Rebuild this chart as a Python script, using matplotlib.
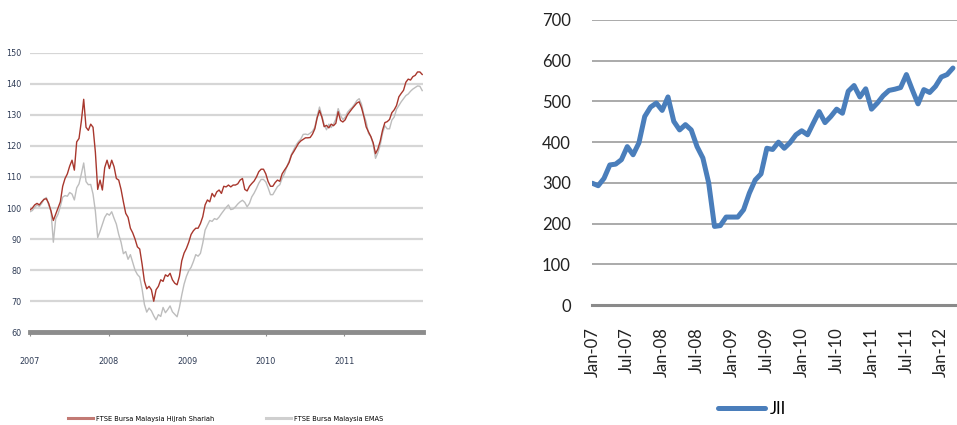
import numpy as np
import matplotlib.pyplot as plt
from matplotlib.lines import Line2D

plt.rcParams['font.family'] = ['Lato', 'DejaVu Sans']
small = {'family': 'DejaVu Sans', 'stretch': 'condensed'}

# left panel: FTSE Bursa Malaysia indices (2007 - end 2011)
years = [2007, 2008, 2009, 2010, 2011]
hijrah = [
    99.4, 100, 101, 101.5, 101, 102, 102.8, 103, 101.5, 99, 96, 98, 100, 102,
    107, 109.5, 111, 113.5, 115.4, 112.2, 121.3, 122.4, 128, 135, 126, 125,
    127, 126, 118, 106, 109, 105.8, 113, 115.4, 112.7, 115.4, 113.3, 109.5,
    109, 106, 102, 98.3, 97, 93.5, 92, 90, 87.5, 86.8, 82, 76.5, 74, 74.8,
    73.7, 70, 73.7, 74.8, 76.9, 76.4, 78.5, 78, 79, 76.9, 75.8, 75.3, 78, 83,
    85.5, 87, 89, 91.5, 92.7, 93.5, 93.5, 95, 97.2, 101, 102.6, 102, 104.7,
    103.6, 105.2, 105.8, 104.7, 107, 106.8, 107.4,
    106.8, 107.4, 107.4, 107.8, 109, 109.5, 106, 105.5, 107, 107.9, 108.7,
    110, 111.7, 112.5, 112.5, 111, 108.5, 107, 107, 108.2, 109, 108.6, 111,
    112.2, 113.3, 114.7, 117, 118.2, 119.5, 120.8, 121.6, 122.1, 122.6, 122.6,
    122.7, 123.8, 125.5, 129, 131.4, 129.3, 126.2, 126.6, 125.8, 127, 126.5,
    127.3, 131, 128.2, 127.7, 128.4, 130, 131, 132, 132.9, 133.8, 134.2,
    132.3, 129.5, 126.1, 124.5, 123, 121, 117.5, 119, 121.5, 125, 127.5,
    127.8, 128.5, 130.7, 131.6, 133, 135.8, 136.9, 137.9, 140.5, 141.5, 141.2,
    142.3, 142.7, 143.8, 143.8, 143,
]
emas = [
    98.8, 99.2, 100.2, 101, 100.5, 101.5, 102.8, 103.4, 101, 99, 89, 96.5, 98,
    100.5, 103.5, 104, 103.8, 105, 104.5, 102.6, 106.5, 107.8, 111, 114.5,
    108.5, 107.5, 107.6, 104.5, 99, 90.5, 92.5, 94.8, 97, 98.2, 97.7, 98.8,
    96.7, 94.8, 91.5, 89, 85.3, 86, 83.5, 85, 82.5, 80, 78.6, 77.8, 74, 69,
    66.5, 67.8, 66.9, 65.3, 64, 65.7, 65.1, 68, 66.3, 67.3, 68.5, 66.6, 65.8,
    65, 68, 72, 75.5, 78, 79.8, 80.9, 82.8, 85, 84.5, 85.4, 88.7, 92.9, 94.5,
    96, 95.7, 96.6, 96.3, 97.1, 98.2, 99.2, 100.2, 101,
    99.5, 99.7, 100.4, 101.3, 102, 102.5, 101.8, 100.4, 101.5, 103.6, 104.8,
    106.3, 108, 109.2, 109.2, 108.4, 106.5, 104.3, 104.3, 105.6, 106.9, 107.5,
    109.6, 111.1, 113.3, 115.1, 117.3, 118.8, 120.3, 121.4, 122.2, 123.7,
    123.8, 123.6, 124.1, 124.7, 126, 129.5, 132.5, 129.8, 126.8, 125.2, 127,
    125.9, 127, 128.6, 132, 129.8, 128.5, 129.2, 130.8, 131.7, 132.4, 133.4,
    134.6, 135.2, 133.4, 130, 127.7, 124, 123, 120.5, 116, 117.8, 120.2, 124,
    126.5, 125.5, 125.5, 128.3, 129.3, 131.8, 133, 134.2, 135.2, 136.2, 136.7,
    137.6, 138.3, 138.8, 139.3, 139.2, 137.8,
]

# right panel: JII monthly, Jan-07 .. Mar-12
jii = [
    299, 293, 311, 344, 346, 357, 389, 369, 398, 463, 486, 496, 478, 511,
    451, 430, 443, 430, 389, 361, 300, 193, 195, 216, 216, 216, 234, 275,
    307, 322, 385, 382, 400, 385, 399, 418, 428, 418, 447, 475, 448, 463,
    481, 471, 525, 539, 511, 531, 481, 496, 514, 527, 530, 534, 566, 529,
    494, 529, 522, 537, 560, 566, 582,
]
month_labels = ['Jan-07', 'Jul-07', 'Jan-08', 'Jul-08', 'Jan-09', 'Jul-09',
                'Jan-10', 'Jul-10', 'Jan-11', 'Jul-11', 'Jan-12']

W, H = 957, 425
fig = plt.figure(figsize=(W / 100, H / 100), dpi=100)

# ---- left chart
red = '#A8372D'
grey = '#BDBDBD'
ax1 = fig.add_axes([30 / W, 1 - 332.3 / H, 393 / W, 279.6 / H])
t_h = np.linspace(2007, 2011.99, len(hijrah))
t_e = np.linspace(2007, 2011.99, len(emas))
ax1.plot(t_e, emas, color=grey, lw=1.0)
ax1.plot(t_h, hijrah, color=red, lw=1.0)
ax1.set_xlim(2007, 2012)
ax1.set_ylim(60, 150)
ax1.set_yticks(range(60, 151, 10))
ax1.set_xticks(years)
ax1.grid(axis='y', color='#D6D6D6', lw=1.6)
ax1.set_axisbelow(True)
for s in ['top', 'right', 'left']:
    ax1.spines[s].set_visible(False)
ax1.spines['bottom'].set_color('#8C8C8C')
ax1.spines['bottom'].set_linewidth(3.5)
ax1.tick_params(axis='y', length=0, pad=6, labelsize=6.5, labelcolor='#2E3B55')
ax1.tick_params(axis='x', length=3, width=0.8, color='#8C8C8C', pad=15,
                labelsize=6.5, labelcolor='#2E3B55')
for lab in ax1.get_xticklabels() + ax1.get_yticklabels():
    lab.set_family(small['family'])
    lab.set_stretch(small['stretch'])

yl = 1 - 419 / H
for x0, col, name in [(68, '#C27A74', 'FTSE Bursa Malaysia Hijrah Shariah'),
                      (266, '#CFCFCF', 'FTSE Bursa Malaysia EMAS')]:
    fig.legend([Line2D([], [], color=col, lw=2.2)], [name], loc='center left',
               bbox_to_anchor=(x0 / W, yl), frameon=False, borderpad=0,
               borderaxespad=0, handlelength=3.4, handletextpad=0.4,
               prop={**small, 'size': 5.3})

# ---- right chart
blue = '#4A7EBB'
ax2 = fig.add_axes([591.5 / W, 1 - 305 / H, (W - 591.5) / W, 285 / H])
ax2.plot(range(len(jii)), jii, color=blue, lw=3.6, solid_joinstyle='round',
         solid_capstyle='round', label='JII')
ax2.set_xlim(-0.15, 62.7)
ax2.set_ylim(0, 700)
ax2.set_yticks(range(0, 701, 100))
ax2.set_xticks(range(0, 61, 6))
ax2.set_xticklabels(month_labels, rotation=90)
ax2.grid(axis='y', color='#939393', lw=1.1)
ax2.set_axisbelow(True)
for s in ['top', 'right', 'left']:
    ax2.spines[s].set_visible(False)
ax2.spines['bottom'].set_color('#8A8A8A')
ax2.spines['bottom'].set_linewidth(2.2)
ax2.tick_params(axis='y', length=0, pad=15, labelsize=12, labelcolor='#222222')
ax2.tick_params(axis='x', length=0, pad=16, labelsize=12, labelcolor='#222222')
ax2.legend(loc='center', bbox_to_anchor=(0.44, -0.365), frameon=False,
           fontsize=12, handlelength=2.8, handletextpad=0.3, borderpad=0)

fig.savefig('out.png', dpi=100)
